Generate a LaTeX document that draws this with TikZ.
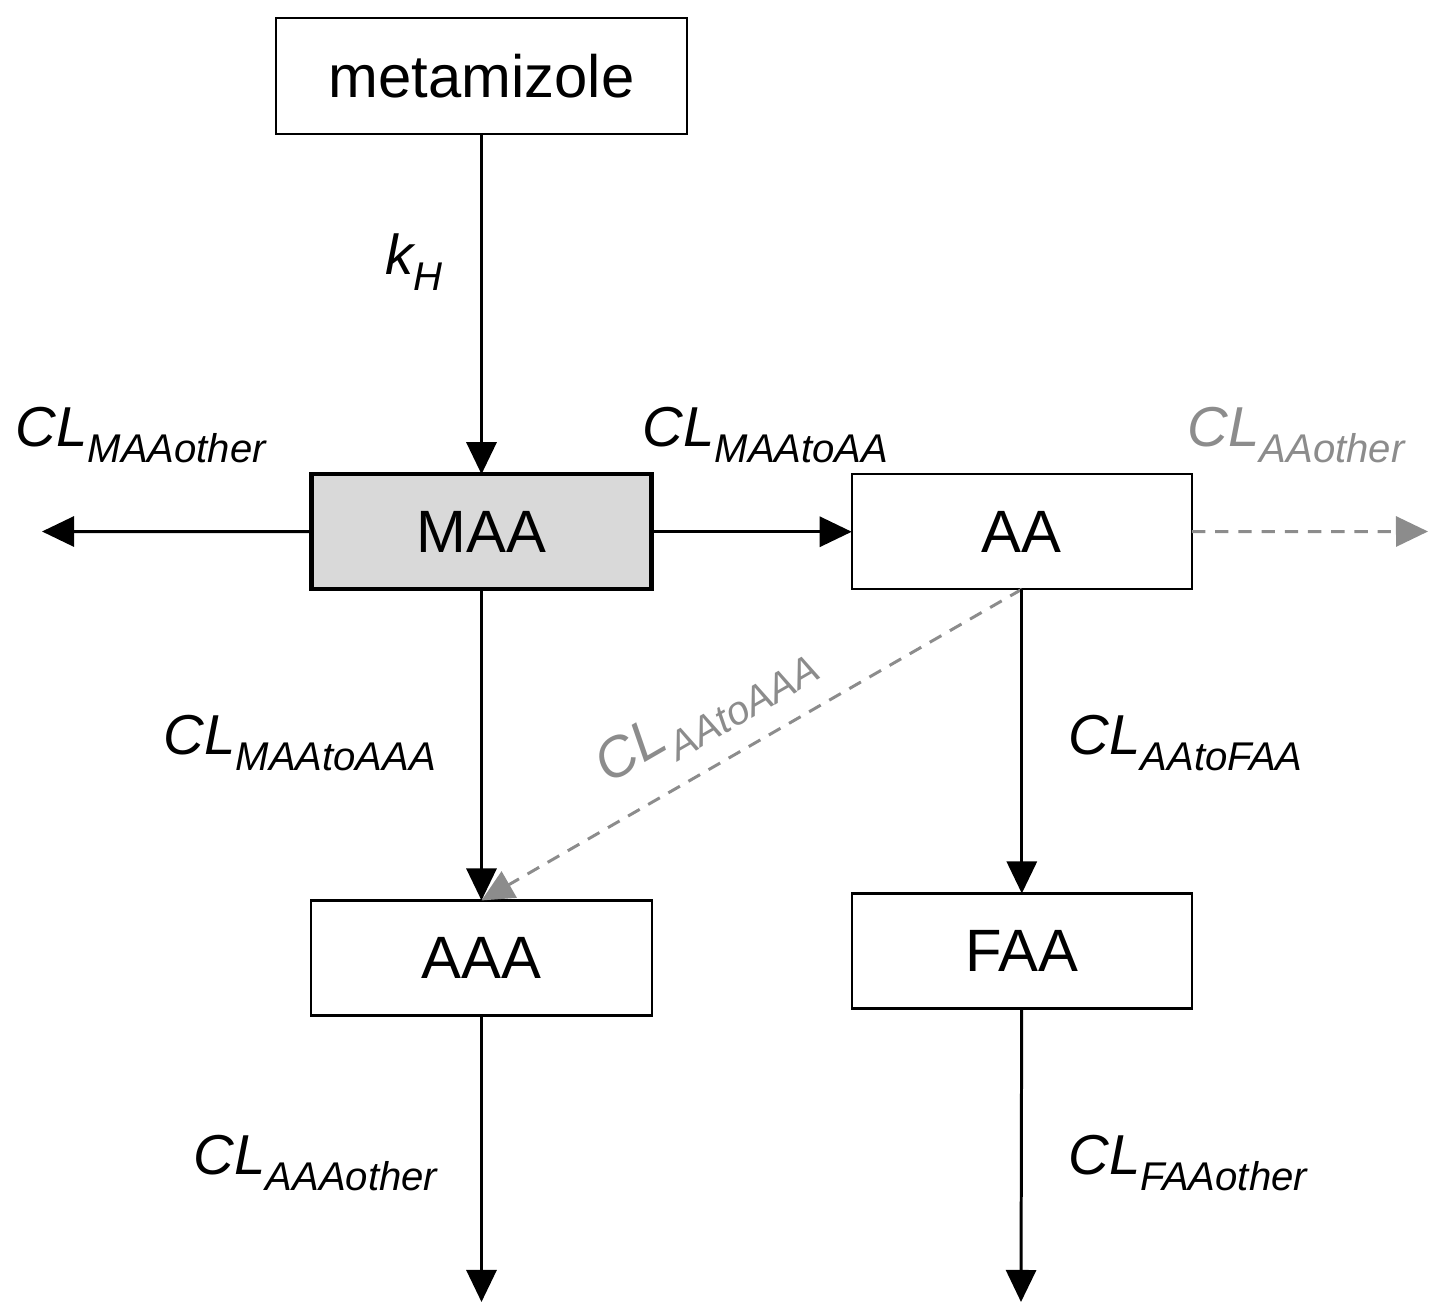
\documentclass[tikz,border=0pt]{standalone}
\usepackage{fontspec}
\setmainfont{Liberation Sans}
\usepackage{tikz}
\usetikzlibrary{positioning,arrows.meta}
\definecolor{inkcol}{RGB}{0,0,0}
\definecolor{maacol}{RGB}{217,217,217}
\definecolor{fadecol}{RGB}{140,140,140}
\newcommand{\rate}[2]{\fontsize{16}{18}\selectfont\itshape #1\raisebox{-4.3pt}{\fontsize{11.4}{13}\selectfont #2}}

\begin{document}
\begin{tikzpicture}[
  x=0.01cm, y=-0.01cm,
  >={Triangle[length=0.32cm, width=0.3cm]},
  box/.style={draw=inkcol, line width=0.6pt, fill=white, inner sep=0pt, outer sep=0pt,
              minimum width=3.4cm, minimum height=1.15cm,
              font=\fontsize{17}{20}\selectfont},
  hub/.style={box, fill=maacol, line width=1.2pt},
  flow/.style={->, line width=0.85pt, draw=inkcol},
  side/.style={->, line width=0.85pt, draw=fadecol, dash pattern=on 3.8pt off 2.8pt},
  ratelbl/.style={anchor=base west, inner sep=0pt, text=inkcol},
  fadelbl/.style={ratelbl, text=fadecol},
]
\useasboundingbox (0,0) rectangle (1430,1304);

% ---------- compartments ----------
\node[box, minimum width=4.11cm, minimum height=1.16cm] (mtz) at (481.5,76) {metamizole};
\node[hub, below=3.4cm of mtz] (maa) {MAA};
\node[box, right=2cm of maa] (aa) {AA};
\node[box, below=3.11cm of maa] (aaa) {AAA};
\node[box, below=3.04cm of aa] (faa) {FAA};

% ---------- free ends ----------
\coordinate (maaout) at (42,531.5);
\coordinate (aaout) at (1428,531.5);
\coordinate (aaaout) at (481.5,1302);
\coordinate (faaout) at (1021,1302);

% ---------- connectors ----------
\draw[flow] (mtz) -- (maa);
\draw[flow] (maa) -- (maaout);
\draw[flow] (maa) -- (aa);
\draw[side] (aa) -- (aaout);
\draw[flow] (maa) -- (aaa);
\draw[side] (aa.south) -- (aaa.north);
\draw[flow] (aa) -- (faa);
\draw[flow] (aaa) -- (aaaout);
\draw[flow] (faa) -- (faaout);

% ---------- rate labels ----------
\node[ratelbl] (kh) at (385,275) {\rate{k}{H}};
\node[ratelbl] (clmaaother) at (15,447) {\rate{CL}{MAAother}};
\node[ratelbl] (clmaatoaa) at (642,447) {\rate{CL}{MAAtoAA}};
\node[fadelbl] (claaother) at (1187,447) {\rate{CL}{AAother}};
\node[ratelbl] (clmaatoaaa) at (163,755) {\rate{CL}{MAAtoAAA}};
\node[fadelbl, anchor=center, rotate=30] (claatoaaa) at (706,714) {\rate{CL}{AAtoAAA}};
\node[ratelbl] (claatofaa) at (1068,755) {\rate{CL}{AAtoFAA}};
\node[ratelbl] (claaaother) at (193,1175) {\rate{CL}{AAAother}};
\node[ratelbl] (clfaaother) at (1068,1175) {\rate{CL}{FAAother}};

\end{tikzpicture}
\end{document}
